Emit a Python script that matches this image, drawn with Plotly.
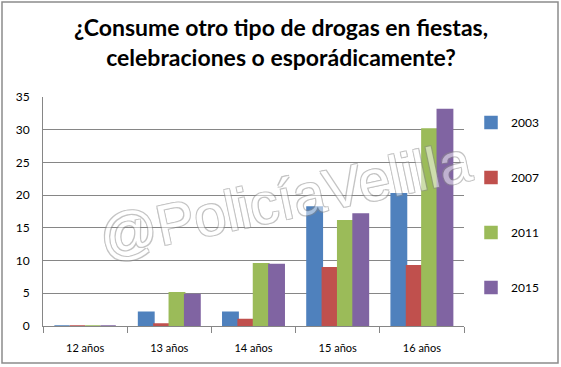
import plotly.graph_objects as go

categories = ["12 años", "13 años", "14 años", "15 años", "16 años"]
years = ["2003", "2007", "2011", "2015"]
v2003 = [0, 2.1, 2.1, 18.2, 20.2]
v2007 = [0, 0.3, 1.0, 8.9, 9.2]
v2011 = [0, 5.1, 9.5, 16.1, 30.1]
v2015 = [0, 4.8, 9.4, 17.1, 33.1]
series = [v2003, v2007, v2011, v2015]
colors = ["#4F81BD", "#C0504D", "#9BBB59", "#8064A2"]
title_text = "¿Consume otro tipo de drogas en fiestas,<br>celebraciones o esporádicamente?"
watermark = "@PolicíaVelilla"

fig = go.Figure()
for i, (name, vals, col) in enumerate(zip(years, series, colors)):
    fig.add_trace(go.Bar(
        x=categories, y=vals, name=name, legendgroup=name,
        marker=dict(color=col, line=dict(color=col, width=1.5)),
    ))

W, H = 561, 367
L, R, T, B = 43, 97, 97, 41
pw, ph = W - L - R, H - T - B

def px_x(p):
    return (p - L) / pw

def px_y(p):
    return (H - B - p) / ph

fig.update_layout(
    width=W, height=H,
    margin=dict(l=L, r=R, t=T, b=B, autoexpand=False),
    paper_bgcolor="white", plot_bgcolor="white",
    font=dict(family="Lato, sans-serif", size=12, color="black"),
    barmode="group", bargap=0.27, bargroupgap=0.0,
    showlegend=True,
    legend=dict(x=px_x(471), y=px_y(108), xanchor="left", yanchor="top",
                traceorder="grouped", tracegroupgap=36,
                font=dict(family="Lato, sans-serif", size=12, color="black"),
                itemwidth=30, bgcolor="rgba(0,0,0,0)"),
    xaxis=dict(showgrid=False, showline=True, linecolor="#868686", linewidth=1,
               ticks="outside", tickson="boundaries", ticklen=6, tickcolor="#868686",
               tickfont=dict(size=11), ticklabelstandoff=12),
    yaxis=dict(range=[0, 35], dtick=5, showgrid=True, gridcolor="#868686", gridwidth=1,
               showline=True, linecolor="#868686", linewidth=1, zeroline=False,
               ticks="", tickfont=dict(size=12), ticklabelstandoff=10),
)

fig.add_shape(type="rect", xref="paper", yref="paper",
              x0=px_x(2), x1=px_x(558), y0=px_y(363), y1=px_y(2),
              line=dict(color="#8C8C8C", width=1.5), fillcolor="rgba(0,0,0,0)", layer="below")

fig.add_annotation(text=title_text, xref="paper", yref="paper",
                   x=px_x(281), y=px_y(42), xanchor="center", yanchor="middle",
                   showarrow=False, align="center",
                   font=dict(family="Lato, sans-serif", size=23, color="black", weight="bold"))

fig.add_annotation(text=watermark, xref="paper", yref="paper",
                   x=px_x(285), y=px_y(199), showarrow=False, textangle=-12, opacity=0.5,
                   font=dict(family="Liberation Sans, Arial, sans-serif", size=57,
                             color="white",
                             shadow="-1px -1px 0 #8A8A8A, 1px -1px 0 #8A8A8A, -1px 1px 0 #8A8A8A, 1px 1px 0 #8A8A8A"))

fig.write_html("out.html", config={"displayModeBar": False},
               post_script="document.body.style.margin='0';document.body.style.overflow='hidden';")
